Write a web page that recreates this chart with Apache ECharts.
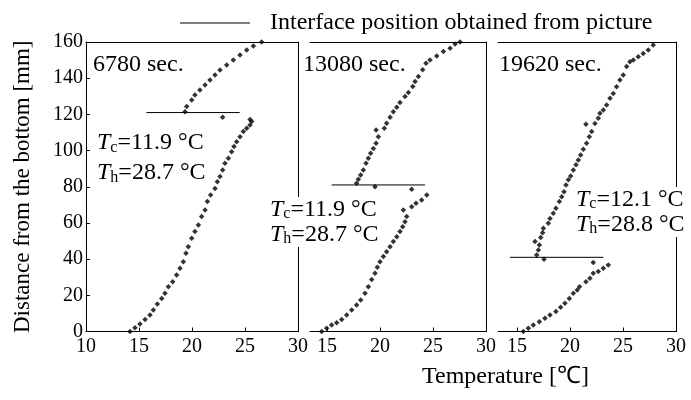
<!DOCTYPE html>
<html><head><meta charset="utf-8">
<script src="https://cdn.jsdelivr.net/npm/echarts@6/dist/echarts.min.js"></script>
<style>html,body{margin:0;padding:0;background:#fff}#c{width:691px;height:400px}</style>
</head><body><div id="c"></div>
<script>
// ---- data ----
const panelTimes = ['6780 sec.', '13080 sec.', '19620 sec.'];
const yTickValues = [0, 20, 40, 60, 80, 100, 120, 140, 160];
const xTickLabels = [10, 15, 20, 25, 30];

const p1Temp = [14.15,14.62,15.09,15.57,16.04,16.35,16.73,17.14,17.45,17.77,18.18,18.55,18.87,19.18,19.43,19.65,19.97,20.28,20.60,20.91,21.23,21.45,21.76,22.17,22.39,22.64,22.89,23.11,23.43,23.74,23.96,24.21,24.53,24.84,25.16,25.47,25.63,25.47,
  22.89,
  19.34,19.50,19.97,20.28,20.75,21.23,21.70,22.17,22.64,23.27,23.90,24.53,25.16,25.79,26.57];
const p1Dist = [0,2.1,4.1,6.7,9.1,11.9,15.2,18.3,21.1,24.8,27.5,31.2,34.9,38.6,43.2,46.9,51.5,55.2,58.9,63.5,67.2,71.8,75.4,79.1,82.8,85.6,89.3,93.0,95.7,99.4,102.2,104.9,107.7,110.5,112.3,114.1,116.0,117.2,
  118.4,
  121.5,124.3,128.0,130.7,133.5,136.2,139.0,141.8,144.5,147.3,150.1,152.8,155.6,157.8,160.0];

const p2Temp = [14.5,14.97,15.44,15.92,16.39,16.86,17.33,17.80,18.18,18.59,18.90,19.22,19.53,19.75,20.00,20.32,20.63,20.95,21.26,21.58,21.89,22.14,22.36,22.52,22.20,22.99,23.40,23.93,24.41,
  22.99,19.53,
  17.80,17.96,18.18,18.43,18.68,18.90,19.12,19.38,19.63,19.85,19.63,20.41,20.63,20.95,21.26,21.58,21.89,22.36,22.68,23.09,23.31,23.62,24.03,24.34,24.72,25.35,25.98,26.61,27.08,27.55];
const p2Dist = [0,1.8,3.6,4.9,6.7,9.1,11.9,14.7,17.4,21.1,24.8,28.8,32.2,35.5,38.6,41.4,44.1,46.9,49.7,52.4,55.2,57.9,60.7,63.5,67.2,69.0,70.9,72.7,75.4,
  78.6,80.0,
  81.9,84.1,86.5,89.3,93.0,95.7,98.5,101.2,104.0,107.7,111.4,112.3,115.1,118.4,121.5,123.9,126.6,129.9,132.1,135.4,138.2,140.9,144.6,148.2,150.1,152.3,154.7,156.5,158.9,160.0];

const p3Temp = [15.59,16.06,16.53,17.10,17.63,18.11,18.67,19.11,19.52,19.93,20.31,20.68,20.89,21.50,21.88,22.19,22.67,23.14,23.61,
  22.19,17.54,
  16.85,17.01,17.10,16.69,17.23,17.41,17.48,17.95,18.11,18.42,18.67,18.99,19.21,19.43,19.62,19.84,20.06,20.31,20.56,20.78,21.00,21.25,21.56,21.82,22.04,21.50,22.35,22.67,22.82,23.14,23.45,23.77,24.08,24.39,24.71,25.02,25.34,25.65,25.97,26.44,26.91,27.38,27.85];
const p3Dist = [0,1.8,3.6,5.4,7.3,9.1,11.0,13.4,15.6,18.3,21.1,23.0,24.8,27.5,29.4,32.2,33.1,34.9,36.8,
  38.2,39.9,
  42.3,45.0,47.8,49.7,52.0,54.6,57.0,59.8,62.5,65.3,68.1,71.8,74.5,77.3,81.0,83.8,86.0,89.3,92.1,94.8,97.6,100.7,104.0,107.7,110.5,114.5,115.0,117.8,120.6,122.4,125.2,128.9,131.6,135.3,139.0,141.8,146.4,149.1,150.1,151.9,153.7,155.6,158.3];

// interface lines: [tempStart, tempEnd], height
const ifaceTemp = [[15.7, 24.5], [15.44, 24.25], [14.33, 23.14]];
const ifaceDist = [121, 81, 41];

const tcText = ['11.9', '11.9', '12.1'];
const thText = ['28.7', '28.7', '28.8'];
const legendName = 'Interface position obtained from picture';

// ---- chart ----
const FONT = 'Liberation Serif';
const zip = (a, b) => a.map((v, i) => [v, b[i]]);
const temps = [p1Temp, p2Temp, p3Temp];
const dists = [p1Dist, p2Dist, p3Dist];

const grids = [
  {left: 86, top: 42, width: 212, height: 289.5},
  {left: 310, top: 42, width: 176, height: 289.5},
  {left: 498, top: 42, width: 178, height: 289.5}
];
const xMins = [10, 13.4, 13.2];

const xAxis = [], yAxis = [], series = [];
const lineStyle = {color: '#000', width: 1};
grids.forEach((g, i) => {
  const ticks = i === 0 ? xTickLabels : xTickLabels.slice(1);
  xAxis.push({
    gridIndex: i, type: 'value', min: xMins[i], max: 30, position: 'bottom',
    axisLine: {show: true, lineStyle},
    axisTick: {show: true, inside: true, length: 4, lineStyle, customValues: ticks},
    axisLabel: {show: true, color: '#000', fontFamily: FONT, fontSize: 20, margin: 5, customValues: ticks},
    splitLine: {show: false}
  });
  xAxis.push({
    gridIndex: i, type: 'value', min: xMins[i], max: 30, position: 'top',
    axisLine: {show: true, onZero: false, lineStyle}, axisTick: {show: false},
    axisLabel: {show: false}, splitLine: {show: false}
  });
  yAxis.push({
    gridIndex: i, type: 'value', min: 0, max: 160, interval: 20, position: 'left',
    axisLine: {show: i === 0, onZero: false, lineStyle},
    axisTick: {show: i === 0, inside: true, length: 4, lineStyle},
    axisLabel: {show: i === 0, color: '#000', fontFamily: FONT, fontSize: 20, margin: 3},
    splitLine: {show: false},
    name: i === 0 ? 'Distance from the bottom [mm]' : '',
    nameLocation: 'middle', nameGap: 52, nameRotate: 90,
    nameTextStyle: {color: '#000', fontFamily: FONT, fontSize: 23}
  });
  yAxis.push({
    gridIndex: i, type: 'value', min: 0, max: 160, position: 'right',
    axisLine: {show: true, onZero: false, lineStyle}, axisTick: {show: false},
    axisLabel: {show: false}, splitLine: {show: false}
  });
  series.push({
    type: 'scatter', xAxisIndex: 2 * i, yAxisIndex: 2 * i,
    data: zip(temps[i], dists[i]), symbol: 'diamond', symbolSize: 5.5,
    itemStyle: {color: '#000'}, silent: true, z: 3
  });
  series.push({
    name: legendName, type: 'line', xAxisIndex: 2 * i, yAxisIndex: 2 * i,
    data: [[ifaceTemp[i][0], ifaceDist[i]], [ifaceTemp[i][1], ifaceDist[i]]],
    showSymbol: false, symbol: 'none', lineStyle: {color: '#000', width: 1}, itemStyle: {color: '#000'},
    silent: true, z: 2
  });
});

const rich = {
  i: {fontFamily: FONT, fontStyle: 'italic', fontSize: 24, color: '#000'},
  s: {fontFamily: FONT, fontSize: 16, color: '#000', padding: [9, 0, 0, 0]},
  n: {fontFamily: FONT, fontSize: 24, color: '#000'}
};
function tempLabel(x, y, k, lh) {
  return {
    type: 'text', left: x, top: y, z: 10,
    style: {
      text: '{i|T}{s|c}{n|=' + tcText[k] + ' °C}\n{i|T}{s|h}{n|=' + thText[k] + ' °C}',
      rich: rich, lineHeight: lh, backgroundColor: '#fff'
    }
  };
}
const timePos = [[93, 53], [303, 53], [499, 53]];
const graphic = [];
timePos.forEach((p, k) => graphic.push({
  type: 'text', left: p[0], top: p[1], z: 10,
  style: {text: panelTimes[k], font: '24px "' + FONT + '"', fill: '#000'}
}));
graphic.push(tempLabel(97, 128, 0, 30));
graphic.push(tempLabel(270, 197, 1, 25));
graphic.push(tempLabel(576, 187, 2, 25));
graphic.push({
  type: 'text', left: 422, top: 365, z: 10,
  style: {text: 'Temperature [℃]', font: '24px "' + FONT + '"', fill: '#000'}
});

const option = {
  backgroundColor: '#fff',
  animation: false,
  grid: grids,
  xAxis, yAxis, series, graphic,
  legend: {
    data: [{name: legendName, icon: 'rect'}],
    left: 175, top: 6, itemWidth: 70, itemHeight: 1, selectedMode: false,
    textStyle: {color: '#000', fontFamily: FONT, fontSize: 24, padding: [0, 0, 0, 15]}
  }
};
const chart = echarts.init(document.getElementById('c'), null, {renderer: 'canvas'});
chart.setOption(option);
</script></body></html>
